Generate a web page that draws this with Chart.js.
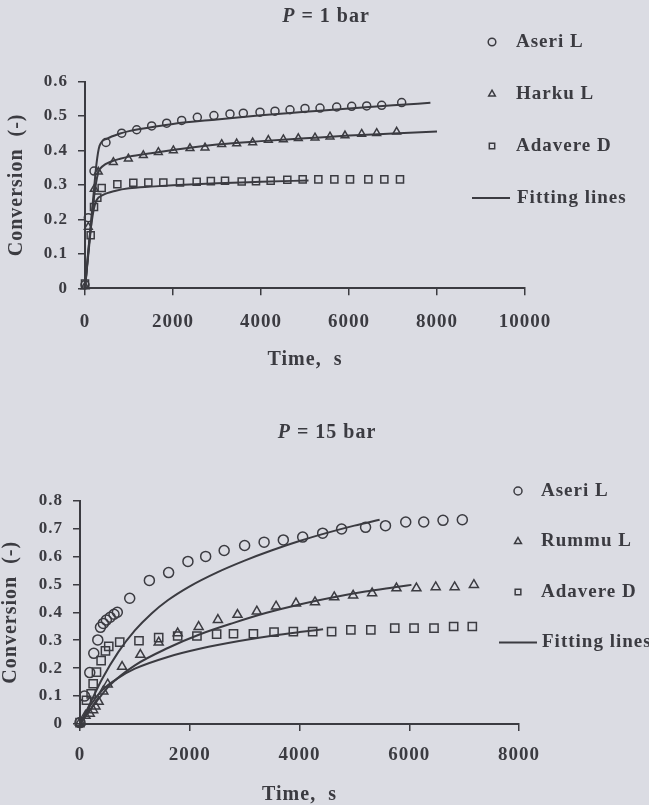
<!DOCTYPE html>
<html>
<head>
<meta charset="utf-8">
<script src="https://cdn.jsdelivr.net/npm/chart.js@4.4.1/dist/chart.umd.min.js"></script>
<style>
html, body { margin: 0; padding: 0; background: #dbdce3; }
body { width: 649px; height: 805px; position: relative; overflow: hidden; }
.panel { position: absolute; left: 0; width: 649px; }
.panel canvas { display: block; }
#top { top: 0; height: 400px; }
#bottom { top: 400px; height: 405px; }
</style>
</head>
<body>
<div class="panel" id="top"><canvas id="c1" width="649" height="400"></canvas></div>
<div class="panel" id="bottom"><canvas id="c2" width="649" height="405"></canvas></div>
<script>
// ---- P = 1 bar ----
const xTicks1 = [0, 2000, 4000, 6000, 8000, 10000];
const xLabels1 = ['0', '2000', '4000', '6000', '8000', '10000'];
const yTicks1 = [0, 0.1, 0.2, 0.3, 0.4, 0.5, 0.6];
const yLabels1 = ['0', '0.1', '0.2', '0.3', '0.4', '0.5', '0.6'];

const aseri1T = [0, 75, 205, 477, 834, 1175, 1515, 1856, 2197, 2553, 2930, 3295, 3598, 3977, 4318, 4659, 5000, 5341, 5720, 6061, 6402, 6743, 7197];
const aseri1V = [0.01, 0.205, 0.34, 0.423, 0.45, 0.46, 0.471, 0.479, 0.487, 0.496, 0.501, 0.506, 0.508, 0.511, 0.514, 0.518, 0.522, 0.523, 0.526, 0.528, 0.529, 0.531, 0.539];
const harku1T = [0, 75, 210, 303, 644, 985, 1326, 1667, 2008, 2386, 2727, 3106, 3447, 3811, 4167, 4508, 4848, 5227, 5568, 5909, 6288, 6629, 7083];
const harku1V = [0.005, 0.178, 0.288, 0.338, 0.366, 0.376, 0.386, 0.395, 0.4, 0.406, 0.408, 0.418, 0.42, 0.423, 0.43, 0.432, 0.435, 0.437, 0.44, 0.443, 0.448, 0.45, 0.454];
const adavere1T = [0, 129, 205, 280, 379, 735, 1098, 1439, 1780, 2159, 2538, 2860, 3182, 3561, 3886, 4220, 4598, 4947, 5303, 5667, 6023, 6439, 6803, 7159];
const adavere1V = [0.014, 0.154, 0.236, 0.263, 0.291, 0.302, 0.306, 0.307, 0.307, 0.307, 0.309, 0.311, 0.312, 0.31, 0.311, 0.312, 0.315, 0.316, 0.316, 0.316, 0.316, 0.316, 0.316, 0.316];

const fitAseri1T = [0, 100, 200, 260, 330, 500, 800, 1000, 1500, 2000, 3000, 4000, 5000, 6000, 7000, 7850];
const fitAseri1V = [0, 0.14, 0.28, 0.36, 0.413, 0.434, 0.449, 0.456, 0.467, 0.477, 0.49, 0.502, 0.512, 0.522, 0.531, 0.538];
const fitHarku1T = [0, 100, 200, 300, 400, 600, 800, 1000, 1500, 2000, 3000, 4000, 5000, 6000, 7000, 8000];
const fitHarku1V = [0, 0.13, 0.26, 0.335, 0.354, 0.368, 0.376, 0.382, 0.392, 0.401, 0.417, 0.427, 0.435, 0.443, 0.449, 0.455];
const fitAdavere1T = [0, 100, 200, 265, 400, 700, 1000, 1500, 2000, 3000, 4000, 5080];
const fitAdavere1V = [0, 0.14, 0.23, 0.256, 0.27, 0.283, 0.29, 0.295, 0.299, 0.305, 0.309, 0.313];

// ---- P = 15 bar ----
const xTicks15 = [0, 2000, 4000, 6000, 8000];
const xLabels15 = ['0', '2000', '4000', '6000', '8000'];
const yTicks15 = [0, 0.1, 0.2, 0.3, 0.4, 0.5, 0.6, 0.7, 0.8];
const yLabels15 = ['0', '0.1', '0.2', '0.3', '0.4', '0.5', '0.6', '0.7', '0.8'];

const aseri15T = [0, 82, 178, 251, 324, 373, 425, 480, 550, 620, 680, 906, 1264, 1615, 1967, 2290, 2627, 3000, 3355, 3705, 4058, 4422, 4767, 5204, 5567, 5936, 6264, 6615, 6967];
const aseri15V = [0.005, 0.1, 0.184, 0.253, 0.301, 0.346, 0.36, 0.372, 0.382, 0.393, 0.4, 0.45, 0.514, 0.542, 0.582, 0.6, 0.621, 0.639, 0.651, 0.659, 0.669, 0.683, 0.698, 0.704, 0.71, 0.723, 0.723, 0.729, 0.731];
const rummu15T = [0, 100, 178, 240, 282, 340, 425, 505, 767, 1100, 1434, 1780, 2162, 2513, 2870, 3222, 3573, 3936, 4282, 4633, 4978, 5324, 5767, 6131, 6482, 6827, 7178];
const rummu15V = [0.005, 0.03, 0.037, 0.05, 0.063, 0.08, 0.117, 0.142, 0.205, 0.248, 0.292, 0.325, 0.348, 0.373, 0.391, 0.403, 0.421, 0.432, 0.436, 0.454, 0.46, 0.468, 0.486, 0.486, 0.49, 0.49, 0.498];
const adavere15T = [0, 118, 203, 240, 300, 385, 464, 524, 724, 1075, 1434, 1780, 2131, 2490, 2797, 3160, 3536, 3888, 4240, 4585, 4936, 5300, 5736, 6087, 6451, 6809, 7149];
const adavere15V = [0.005, 0.085, 0.108, 0.144, 0.186, 0.227, 0.262, 0.278, 0.293, 0.298, 0.309, 0.315, 0.315, 0.322, 0.323, 0.323, 0.329, 0.331, 0.331, 0.331, 0.337, 0.337, 0.343, 0.343, 0.343, 0.349, 0.349];

const fitAseri15T = [0, 200, 400, 700, 1000, 1300, 1600, 2000, 2500, 3000, 3500, 4000, 4500, 5000, 5460];
const fitAseri15V = [0, 0.08, 0.16, 0.258, 0.335, 0.395, 0.443, 0.493, 0.543, 0.585, 0.622, 0.655, 0.684, 0.71, 0.731];
const fitRummu15T = [0, 300, 550, 1000, 1600, 2200, 2800, 3400, 4000, 4600, 5200, 5800, 6040];
const fitRummu15V = [0, 0.08, 0.14, 0.21, 0.272, 0.322, 0.362, 0.398, 0.428, 0.453, 0.474, 0.491, 0.498];
const fitAdavere15T = [0, 200, 425, 700, 1000, 1600, 2200, 2900, 3500, 4000, 4430];
const fitAdavere15V = [0, 0.07, 0.125, 0.165, 0.198, 0.24, 0.27, 0.297, 0.316, 0.329, 0.339];

const ink = '#3b3b41';
const serif = '"Liberation Serif", "Times New Roman", serif';

function pts(t, v) { return t.map((x, i) => ({ x: x, y: v[i] })); }

function marks(label, t, v, style, r) {
    return { label: label, data: pts(t, v), pointStyle: style, pointRadius: r, pointHoverRadius: r,
        pointBorderWidth: 1.5, pointBorderColor: ink, pointBackgroundColor: 'rgba(0,0,0,0)',
        showLine: false, clip: false };
}
function fit(label, t, v) {
    return { label: label, data: pts(t, v), showLine: true, borderColor: ink, borderWidth: 2,
        pointRadius: 0, cubicInterpolationMode: 'monotone', fill: false, clip: false };
}

function drawMark(ctx, style, x, y, r) {
    ctx.beginPath();
    if (style === 'circle') {
        ctx.arc(x, y, r, 0, Math.PI * 2);
    } else if (style === 'triangle') {
        for (let k = 0; k < 3; k++) {
            const a = k * 2 * Math.PI / 3;
            const px = x + Math.sin(a) * r, py = y - Math.cos(a) * r;
            if (k === 0) ctx.moveTo(px, py); else ctx.lineTo(px, py);
        }
        ctx.closePath();
    } else {
        const s = r * Math.SQRT1_2;
        ctx.rect(x - s, y - s, 2 * s, 2 * s);
    }
    ctx.stroke();
}

// spaced letters like the scanned typeset text
const spacing = {
    id: 'spacing',
    beforeLayout(chart) { chart.ctx.letterSpacing = '1px'; },
    beforeDraw(chart) { chart.ctx.letterSpacing = '1px'; }
};

// panel heading + legend at the side of the plot
const paperText = {
    id: 'paperText',
    afterDraw(chart, args, o) {
        const ctx = chart.ctx;
        ctx.save();
        ctx.letterSpacing = '1px';
        ctx.fillStyle = ink;
        ctx.strokeStyle = ink;
        ctx.textBaseline = 'middle';
        ctx.textAlign = 'left';

        const fItal = 'italic bold 20px ' + serif, fBold = 'bold 20px ' + serif;
        ctx.font = fItal; const w1 = ctx.measureText(o.heading[0]).width;
        ctx.font = fBold; const w2 = ctx.measureText(o.heading[1]).width;
        const hx = o.headX - (w1 + w2) / 2;
        ctx.font = fItal; ctx.fillText(o.heading[0], hx, o.headY);
        ctx.font = fBold; ctx.fillText(o.heading[1], hx + w1, o.headY);

        ctx.font = 'bold 19px ' + serif;
        let row = 0;
        chart.data.datasets.forEach(ds => {
            if (!ds.label) return;
            const y = o.legendY + row * o.legendGap;
            row++;
            if (ds.showLine) {
                ctx.lineWidth = 2;
                ctx.beginPath();
                ctx.moveTo(o.lineX0, y);
                ctx.lineTo(o.lineX1, y);
                ctx.stroke();
                ctx.fillText(ds.label, o.lineTextX, y);
            } else {
                ctx.lineWidth = 1.5;
                drawMark(ctx, ds.pointStyle, o.markX, y, o.markR);
                ctx.fillText(ds.label, o.textX, y);
            }
        });
        ctx.restore();
    }
};

function axes(o) {
    return {
        x: {
            type: 'linear', position: 'bottom', min: 0, max: o.xMax,
            afterBuildTicks: s => { s.ticks = o.xTicks.map(v => ({ value: v })); },
            afterFit: s => { s.height = o.xHeight; },
            grid: { display: true, drawOnChartArea: false, drawTicks: true, tickLength: 7, color: ink, lineWidth: 1.5 },
            border: { display: true, color: ink, width: 2 },
            ticks: { color: ink, padding: o.xPad, maxRotation: 0, autoSkip: false,
                font: { family: serif, size: 19, weight: 'bold', lineHeight: 1 },
                callback: (v, i) => o.xLabels[i] },
            title: { display: true, text: 'Time,  s', color: ink,
                font: { family: serif, size: 20, weight: 'bold', lineHeight: 1 },
                padding: { top: 0, bottom: o.xTitlePad } }
        },
        y: {
            type: 'linear', position: 'left', min: 0, max: o.yMax,
            afterBuildTicks: s => { s.ticks = o.yTicks.map(v => ({ value: v })); },
            afterFit: s => { s.width = o.yWidth; },
            grid: { display: true, drawOnChartArea: false, drawTicks: true, tickLength: 7, color: ink, lineWidth: 1.5 },
            border: { display: true, color: ink, width: 2 },
            ticks: { color: ink, padding: 10, autoSkip: false,
                font: { family: serif, size: 17, weight: 'bold', lineHeight: 1 },
                callback: (v, i) => o.yLabels[i] },
            title: { display: true, text: 'Conversion  (-)', color: ink,
                font: { family: serif, size: 20, weight: 'bold', lineHeight: 1 },
                padding: { top: o.yTitlePad, bottom: 0 } }
        }
    };
}

function makeChart(id, datasets, pad, scaleOpts, textOpts) {
    return new Chart(document.getElementById(id), {
        type: 'scatter',
        data: { datasets: datasets },
        options: {
            responsive: false, animation: false, devicePixelRatio: 1,
            layout: { padding: pad },
            plugins: { legend: { display: false }, tooltip: { enabled: false }, paperText: textOpts },
            scales: axes(scaleOpts)
        },
        plugins: [spacing, paperText]
    });
}

makeChart('c1', [
    marks('Aseri L', aseri1T, aseri1V, 'circle', 4),
    marks('Harku L', harku1T, harku1V, 'triangle', 4.5),
    marks('Adavere D', adavere1T, adavere1V, 'rect', 5),
    fit('Fitting lines', fitAseri1T, fitAseri1V),
    fit('', fitHarku1T, fitHarku1V),
    fit('', fitAdavere1T, fitAdavere1V)
], { left: 0, top: 81.5, right: 124, bottom: 0 },
{ xMax: 10000, xTicks: xTicks1, xLabels: xLabels1, yMax: 0.6, yTicks: yTicks1, yLabels: yLabels1,
  xHeight: 111.7, yWidth: 85, xPad: 17, xTitlePad: 30, yTitlePad: 7 },
{ heading: ['P', ' = 1 bar'], headX: 326, headY: 17,
  legendY: 42, legendGap: 52, markX: 492, markR: 3.8, textX: 516,
  lineX0: 472, lineX1: 510, lineTextX: 517 });

makeChart('c2', [
    marks('Aseri L', aseri15T, aseri15V, 'circle', 5),
    marks('Rummu L', rummu15T, rummu15V, 'triangle', 5.2),
    marks('Adavere D', adavere15T, adavere15V, 'rect', 5.8),
    fit('Fitting lines', fitAseri15T, fitAseri15V),
    fit('', fitRummu15T, fitRummu15V),
    fit('', fitAdavere15T, fitAdavere15V)
], { left: 0, top: 100.5, right: 130, bottom: 0 },
{ xMax: 8000, xTicks: xTicks15, xLabels: xLabels15, yMax: 0.8, yTicks: yTicks15, yLabels: yLabels15,
  xHeight: 81, yWidth: 80, xPad: 15, xTitlePad: 0, yTitlePad: 1 },
{ heading: ['P', ' = 15 bar'], headX: 327, headY: 33,
  legendY: 91, legendGap: 50.5, markX: 518, markR: 4, textX: 541,
  lineX0: 499, lineX1: 537, lineTextX: 542 });
</script>
</body>
</html>
